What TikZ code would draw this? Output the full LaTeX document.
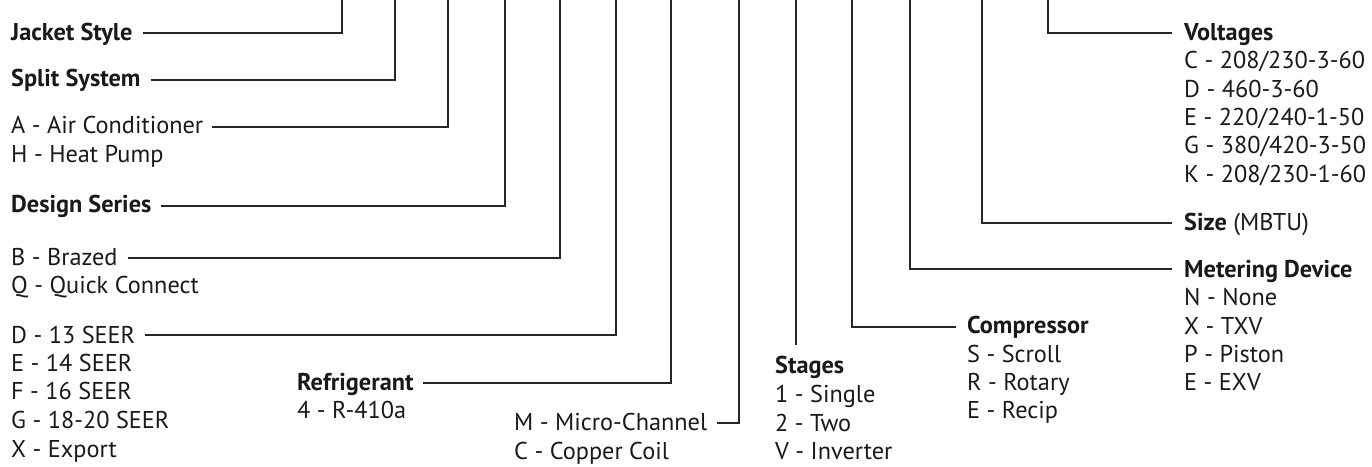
\documentclass[tikz,border=0pt]{standalone}
\usepackage{fontspec}
\setmainfont{PT Sans}
\begin{document}
\begin{tikzpicture}[x=1pt,y=-1pt,
  lbl/.style={anchor=base west, inner sep=0pt, font=\fontsize{24.3}{28}\selectfont, text=black!90},
  hd/.style={lbl, font=\fontsize{24.3}{28}\selectfont\bfseries},
  conn/.style={draw=black!85, line width=1.3pt}]
\useasboundingbox (0,0) rectangle (1372,466);
% left column
\node[hd]  (js)  at (11,40)  {Jacket Style};
\node[hd]  (ss)  at (11,86)  {Split System};
\node[lbl] (ac)  at (11,133) {A - Air Conditioner};
\node[lbl] (hp)  at (11,162) {H - Heat Pump};
\node[hd]  (ds)  at (11,212) {Design Series};
\node[lbl] (bz)  at (11,265) {B - Brazed};
\node[lbl] (qc)  at (11,293) {Q - Quick Connect};
\node[lbl] (s13) at (11,343) {D - 13 SEER};
\node[lbl] (s14) at (11,371) {E - 14 SEER};
\node[lbl] (s16) at (11,399) {F - 16 SEER};
\node[lbl] (s18) at (11,428) {G - 18-20 SEER};
\node[lbl] (exp) at (11,457) {X - Export};
% refrigerant
\node[hd]  (rf)  at (297,390) {Refrigerant};
\node[lbl] (r4)  at (297,418) {4 - R-410a};
% coil
\node[lbl] (mc)  at (514,430) {M - Micro-Channel};
\node[lbl] (cc)  at (514,459) {C - Copper Coil};
% stages
\node[hd]  (st)  at (775,373) {Stages};
\node[lbl] (st1) at (775,402) {1 - Single};
\node[lbl] (st2) at (775,431) {2 - Two};
\node[lbl] (stv) at (775,459) {V - Inverter};
% compressor
\node[hd]  (cp)  at (967,333) {Compressor};
\node[lbl] (cps) at (967,362) {S - Scroll};
\node[lbl] (cpr) at (967,390) {R - Rotary};
\node[lbl] (cpe) at (967,418) {E - Recip};
% metering
\node[hd]  (md)  at (1184,277) {Metering Device};
\node[lbl] (mdn) at (1184,305) {N - None};
\node[lbl] (mdx) at (1184,334) {X - TXV};
\node[lbl] (mdp) at (1184,362) {P - Piston};
\node[lbl] (mde) at (1184,390) {E - EXV};
% voltages
\node[hd]  (vo)  at (1184,40)  {Voltages};
\node[lbl] (voc) at (1184,68)  {C - 208/230-3-60};
\node[lbl] (vod) at (1184,97)  {D - 460-3-60};
\node[lbl] (voe) at (1184,125) {E - 220/240-1-50};
\node[lbl] (vog) at (1184,153) {G - 380/420-3-50};
\node[lbl] (vok) at (1184,182) {K - 208/230-1-60};
% size
\node[lbl] (sz)  at (1184,230) {\textbf{Size} (MBTU)};
% top ends of the connectors
\coordinate (t1)  at (342,-2);
\coordinate (t2)  at (395,-2);
\coordinate (t3)  at (448,-2);
\coordinate (t4)  at (505,-2);
\coordinate (t5)  at (560,-2);
\coordinate (t6)  at (616,-2);
\coordinate (t7)  at (671,-2);
\coordinate (t8)  at (739,-2);
\coordinate (t9)  at (796,-2);
\coordinate (t10) at (852,-2);
\coordinate (t11) at (910,-2);
\coordinate (t12) at (982,-2);
\coordinate (t13) at (1048,-2);
% connectors
\draw[conn] ([shift={(10,-7)}]js.base east) -| (t1);
\draw[conn] ([shift={(10,-6)}]ss.base east) -| (t2);
\draw[conn] ([shift={(9,-6)}]ac.base east) -| (t3);
\draw[conn] ([shift={(9,-6)}]ds.base east) -| (t4);
\draw[conn] ([shift={(10,-7)}]bz.base east) -| (t5);
\draw[conn] ([shift={(10,-8)}]s13.base east) -| (t6);
\draw[conn] ([shift={(9,-7)}]rf.base east) -| (t7);
\draw[conn] ([shift={(10,-7)}]mc.base east) -| (t8);
\draw[conn, shorten >=10pt] (t9) -- (t9 |- st.north);
\draw[conn] ([shift={(-11,-6)}]cp.base west) -| (t10);
\draw[conn] ([shift={(-12,-8)}]md.base west) -| (t11);
\draw[conn] ([shift={(-12,-7)}]sz.base west) -| (t12);
\draw[conn] ([shift={(-12,-7)}]vo.base west) -| (t13);
\end{tikzpicture}
\end{document}
